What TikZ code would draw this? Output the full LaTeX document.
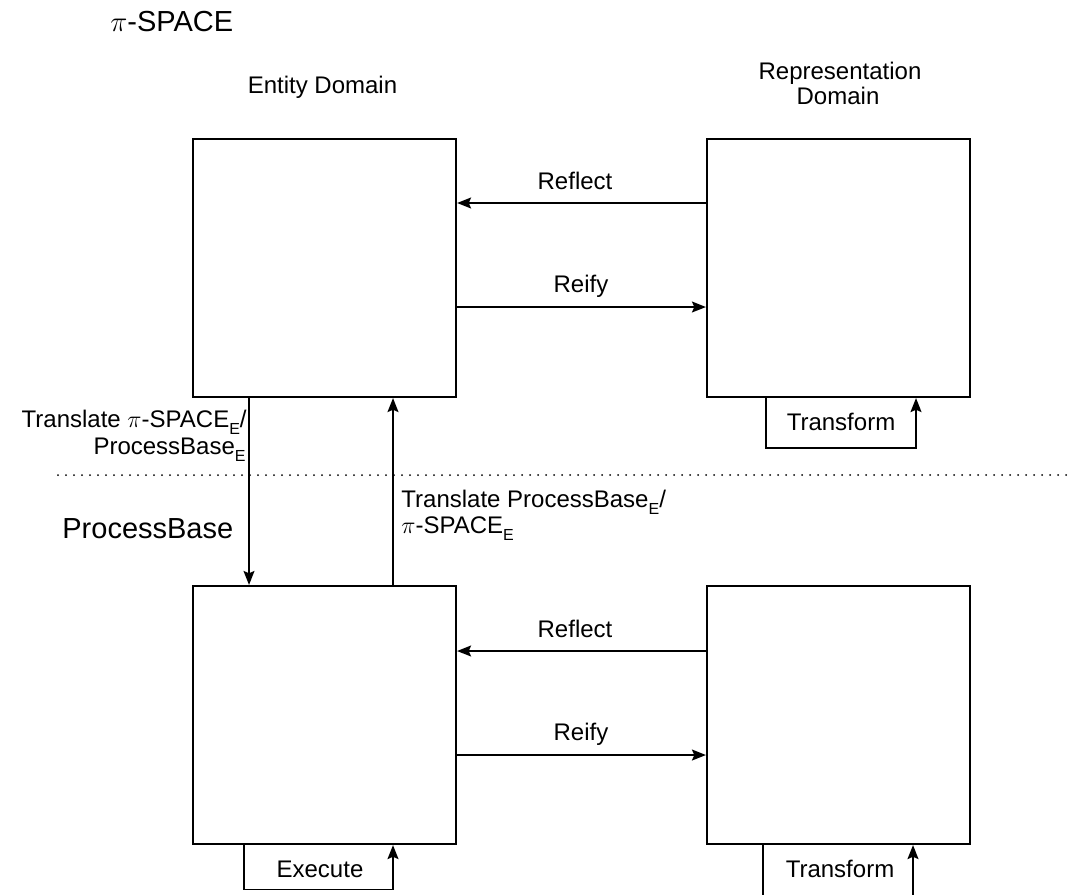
\documentclass[tikz,border=0pt]{standalone}
\usepackage{fontspec}
\setmainfont{Liberation Sans}
\usetikzlibrary{arrows.meta}
% lowered small "E" used as an index on the space names
\newcommand{\subE}{\raisebox{-3.5pt}{\fontsize{8pt}{9pt}\selectfont E}}
\begin{document}
\begin{tikzpicture}[x=0.5pt,y=-0.5pt,
  box/.style={draw, line width=1.1pt, minimum width=131.5pt, minimum height=129pt, inner sep=0pt},
  arr/.style={line width=0.75pt, -{Stealth[length=7pt,width=5.5pt,inset=1.2pt]}},
  lbl/.style={font=\fontsize{12pt}{12.5pt}\selectfont, inner sep=0pt, anchor=base},
  big/.style={font=\fontsize{14.5pt}{16pt}\selectfont, inner sep=0pt, anchor=base west},
  dots/.style={line width=1pt, dash pattern=on 0pt off 4pt, line cap=round}]

\path[use as bounding box] (0,0) rectangle (1074,894);
\clip (0,0) rectangle (1074,894);

% four domain boxes
\node[box] (EL) at (324.5,268) {};
\node[box] (ER) at (838.5,268) {};
\node[box] (PL) at (324.5,715) {};
\node[box] (PR) at (838.5,715) {};

% headings
\node[big] (pispace) at (110,32) {$\pi$-SPACE};
\node[lbl] (entity) at (322.5,93) {Entity Domain};
\node[lbl] (repr1) at (840,79) {Representation};
\node[lbl] (repr2) at (838,104) {Domain};
\node[big] (pbase) at (62,538) {ProcessBase};

% separator between the two spaces
\coordinate (sepL) at (58,475);
\coordinate (sepR) at (1070,475);
\draw[dots] (sepL) -- (sepR);

% upper reflect / reify
\draw[arr] ([yshift=32.5pt]ER.west) -- ([yshift=32.5pt]EL.east);
\draw[arr] ([yshift=-19.5pt]EL.east) -- ([yshift=-19.5pt]ER.west);
\node[lbl] (refl1) at (575,189) {Reflect};
\node[lbl] (reif1) at (581,292) {Reify};

% lower reflect / reify
\draw[arr] ([yshift=32pt]PR.west) -- ([yshift=32pt]PL.east);
\draw[arr] ([yshift=-20pt]PL.east) -- ([yshift=-20pt]PR.west);
\node[lbl] (refl2) at (575,637) {Reflect};
\node[lbl] (reif2) at (581,740) {Reify};

% translations between the spaces
\draw[arr] ([xshift=-37.75pt]EL.south) -- ([xshift=-37.75pt]PL.north);
\draw[arr] ([xshift=34.25pt]PL.north) -- ([xshift=34.25pt]EL.south);
\node[lbl, anchor=base east] (tl1) at (247,427) {Translate $\pi$-SPACE\subE/};
\node[lbl, anchor=base east] (tl2) at (246,454) {ProcessBase\subE};
\node[lbl, anchor=base west] (tr1) at (401,507) {Translate ProcessBase\subE/};
\node[lbl, anchor=base west] (tr2) at (401,533) {$\pi$-SPACE\subE};

% self loops
\draw[arr] ([xshift=-36.25pt]ER.south) -- ++(0pt,-25pt) -| ([xshift=38.75pt]ER.south);
\node[lbl] (trans1) at (841,430) {Transform};

\draw[arr] ([xshift=-37.75pt]PR.south) -- ++(0pt,-40pt) -| ([xshift=37.25pt]PR.south);
\node[lbl] (trans2) at (840,877) {Transform};

\draw[arr] ([xshift=-40.25pt]PL.south) -- ++(0pt,-22.25pt) -| ([xshift=34.25pt]PL.south);
\node[lbl] (exec) at (320,877) {Execute};
\end{tikzpicture}
\end{document}
